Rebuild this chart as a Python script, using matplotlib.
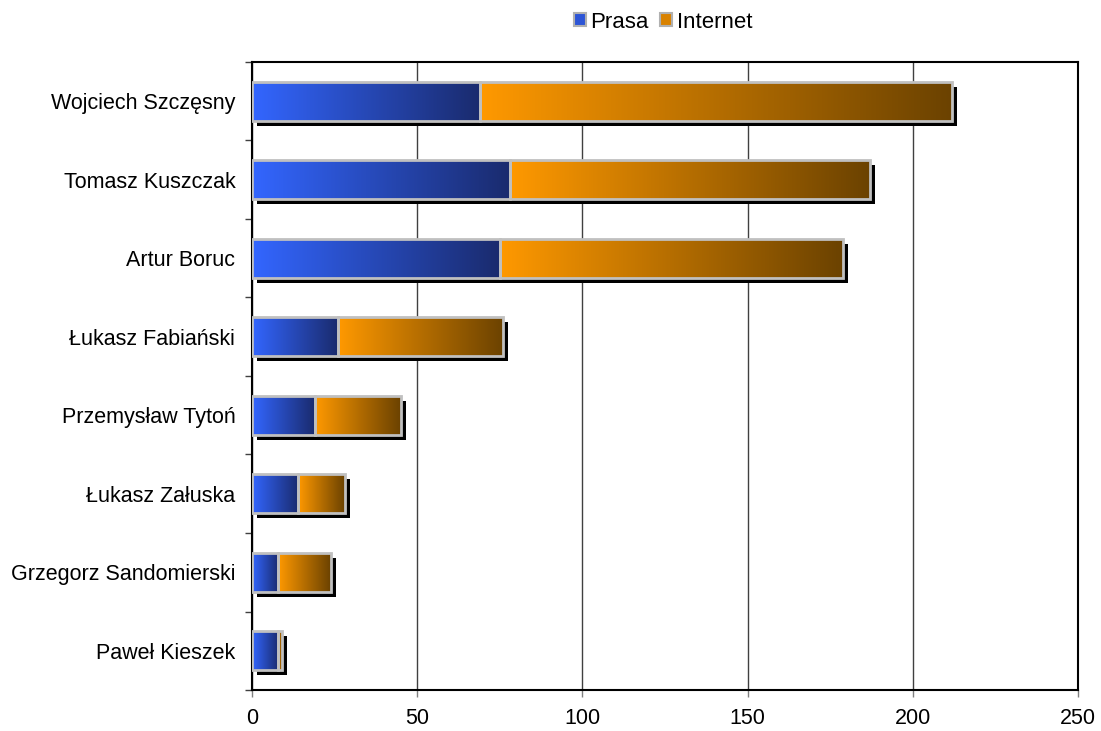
import matplotlib.pyplot as plt
import matplotlib.transforms as mtransforms
from matplotlib.colors import LinearSegmentedColormap
from matplotlib.patches import Patch
import numpy as np

plt.rcParams['font.family'] = ['Liberation Sans', 'DejaVu Sans']

names = ['Wojciech Szczęsny', 'Tomasz Kuszczak', 'Artur Boruc', 'Łukasz Fabiański',
         'Przemysław Tytoń', 'Łukasz Załuska', 'Grzegorz Sandomierski', 'Paweł Kieszek']
prasa = [69, 78, 75, 26, 19, 14, 8, 8]
internet = [143, 109, 104, 50, 26, 14, 16, 1]
xticks = [0, 50, 100, 150, 200, 250]

blue = LinearSegmentedColormap.from_list('b', ['#3366ff', '#1a2b6e'])
orange = LinearSegmentedColormap.from_list('o', ['#ff9900', '#6b4200'])

fig = plt.figure(figsize=(11.01, 7.31), dpi=100)
ax = fig.add_axes([252 / 1101, 1 - 690 / 731, 826 / 1101, 628 / 731])

y = np.arange(len(names))
h = 0.5
totals = [p + i for p, i in zip(prasa, internet)]

# cien pod slupkami
shadow_tr = ax.transData + mtransforms.ScaledTranslation(5 / 100, -5 / 100, fig.dpi_scale_trans)
ax.barh(y, totals, height=h, color='black', transform=shadow_tr, zorder=2)

grad = np.linspace(0, 1, 256).reshape(1, -1)
for lefts, widths, cmap in [([0] * len(prasa), prasa, blue), (prasa, internet, orange)]:
    bars = ax.barh(y, widths, left=lefts, height=h, facecolor='none',
                   edgecolor='#c0c0c0', linewidth=2, zorder=4)
    for b in bars:
        if b.get_width() <= 0:
            continue
        x0, y0 = b.get_x(), b.get_y()
        im = ax.imshow(grad, cmap=cmap, aspect='auto', zorder=3,
                       extent=[x0, x0 + b.get_width(), y0 + b.get_height(), y0])
        im.set_clip_path(b)

ax.set_xlim(0, 250)
ax.set_ylim(len(names) - 0.5, -0.5)
ax.set_xticks(xticks)
ax.set_yticks(y)
ax.set_yticklabels(names)
ax.set_yticks(np.arange(len(names) + 1) - 0.5, minor=True)
ax.tick_params(axis='y', which='major', length=0, pad=12, labelsize=15.5)
ax.tick_params(axis='y', which='minor', length=5, width=1, color='#404040')
ax.tick_params(axis='x', length=5, width=1, color='#808080', pad=8, labelsize=15.5)
ax.grid(axis='x', color='#404040', linewidth=1, zorder=1)
ax.set_axisbelow(True)
for s in ax.spines.values():
    s.set_linewidth(1.5)
    s.set_color('black')

handles = [Patch(facecolor='#2d55d6', edgecolor='#b0b0b0', linewidth=1.5, label='Prasa'),
           Patch(facecolor='#d98200', edgecolor='#b0b0b0', linewidth=1.5, label='Internet')]
fig.legend(handles=handles, loc='center', bbox_to_anchor=(663 / 1101, 1 - 22 / 731), ncol=2,
           frameon=False, fontsize=16, handlelength=0.55, handleheight=0.55,
           handletextpad=0.2, columnspacing=0.5)

fig.savefig('out.png', dpi=100)
